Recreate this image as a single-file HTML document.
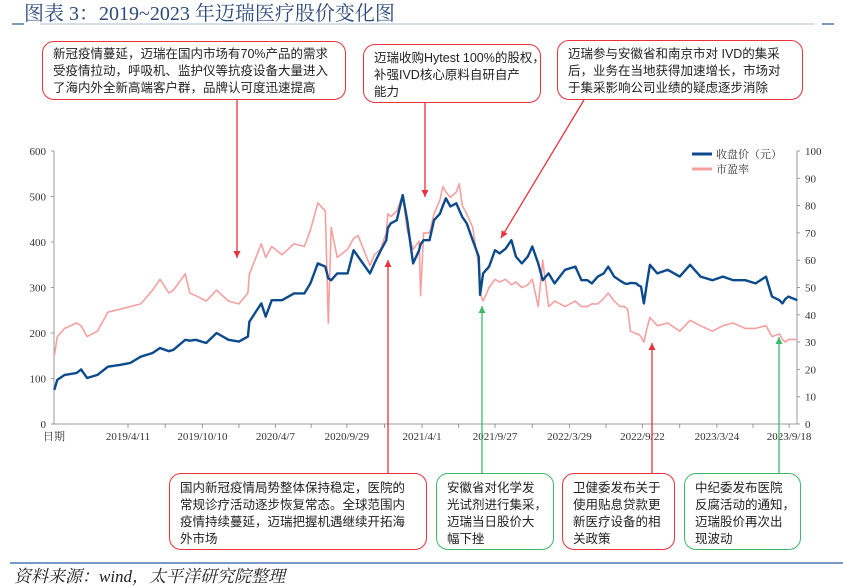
<!DOCTYPE html>
<html><head><meta charset="utf-8">
<style>
body{margin:0;background:#fff;width:843px;height:586px;overflow:hidden;font-family:"Liberation Sans","Noto Sans CJK SC",sans-serif;}
svg{display:block}
.box{position:absolute;border-radius:12px;background:#fff;font-size:12.5px;line-height:17px;color:#222;box-sizing:border-box;padding:6px 8px 0 10px;white-space:nowrap;font-family:"Liberation Sans","Noto Sans CJK SC",sans-serif;}
.red{border:1.5px solid #e8323c}
.green{border:1.5px solid #3cb96a}
</style></head><body>
<div style="position:relative;width:843px;height:586px">
<svg id="chart" width="843" height="586">
<text x="24" y="20" font-family="Liberation Serif,Noto Serif CJK SC,serif" font-size="20" fill="#2c4a7c">图表 3：2019~2023 年迈瑞医疗股价变化图</text>
<line x1="40" y1="24" x2="815" y2="24" stroke="#a9bfd4" stroke-width="1"/>
<line x1="12" y1="24" x2="24" y2="24" stroke="#4a78a8" stroke-width="1.5"/>
<line x1="822" y1="24" x2="834" y2="24" stroke="#4a78a8" stroke-width="1.5"/>
<line x1="10" y1="563" x2="843" y2="563" stroke="#4a78b8" stroke-width="1.5"/>
<text x="14" y="582" font-family="Liberation Serif,Noto Serif CJK SC,serif" font-style="italic" font-size="17" fill="#222">资料来源：wind，太平洋研究院整理</text>
<g id="axes"></g><g id="series"></g><g id="arrows"></g>
<g>
<line x1="692" y1="154" x2="712" y2="154" stroke="#0c4a8c" stroke-width="3"/>
<text x="716" y="158" font-size="11" fill="#333" font-family="Noto Serif CJK SC,serif">收盘价（元）</text>
<line x1="692" y1="169" x2="712" y2="169" stroke="#f4a0a0" stroke-width="3"/>
<text x="716" y="173" font-size="11" fill="#333" font-family="Noto Serif CJK SC,serif">市盈率</text>
</g>
</svg>
<div class="box red" style="left:42px;top:41px;width:304px;height:59px;padding-top:4px">新冠疫情蔓延，迈瑞在国内市场有70%产品的需求<br>受疫情拉动，呼吸机、监护仪等抗疫设备大量进入<br>了海内外全新高端客户群，品牌认可度迅速提高</div>
<div class="box red" style="left:363px;top:44px;width:178px;height:59px;padding-top:5px">迈瑞收购Hytest 100%的股权，<br>补强IVD核心原料自研自产<br>能力</div>
<div class="box red" style="left:557px;top:40px;width:246px;height:60px;padding-top:5px">迈瑞参与安徽省和南京市对 IVD的集采<br>后，业务在当地获得加速增长，市场对<br>于集采影响公司业绩的疑虑逐步消除</div>
<div class="box red" style="left:169px;top:473px;width:258px;height:77px;padding-top:6px">国内新冠疫情局势整体保持稳定，医院的<br>常规诊疗活动逐步恢复常态。全球范围内<br>疫情持续蔓延，迈瑞把握机遇继续开拓海<br>外市场</div>
<div class="box green" style="left:436px;top:473px;width:118px;height:77px;padding-top:6px">安徽省对化学发<br>光试剂进行集采，<br>迈瑞当日股价大<br>幅下挫</div>
<div class="box red" style="left:562px;top:473px;width:113px;height:77px;padding-top:6px">卫健委发布关于<br>使用贴息贷款更<br>新医疗设备的相<br>关政策</div>
<div class="box green" style="left:684px;top:473px;width:117px;height:77px;padding-top:6px">中纪委发布医院<br>反腐活动的通知，<br>迈瑞股价再次出<br>现波动</div>
</div>
<script>
const times=[2018.78,2018.80,2018.85,2018.93,2018.96,2019.00,2019.07,2019.14,2019.22,2019.29,2019.36,2019.44,2019.49,2019.55,2019.58,2019.66,2019.69,2019.73,2019.80,2019.87,2019.95,2020.02,2020.08,2020.09,2020.17,2020.20,2020.24,2020.31,2020.39,2020.46,2020.50,2020.55,2020.60,2020.62,2020.64,2020.68,2020.75,2020.79,2020.82,2020.90,2020.93,2020.97,2021.01,2021.02,2021.04,2021.08,2021.12,2021.15,2021.19,2021.23,2021.24,2021.26,2021.30,2021.33,2021.37,2021.39,2021.41,2021.44,2021.48,2021.50,2021.52,2021.55,2021.59,2021.63,2021.64,2021.66,2021.70,2021.74,2021.77,2021.81,2021.85,2021.88,2021.92,2021.96,2021.99,2022.03,2022.06,2022.10,2022.14,2022.21,2022.28,2022.32,2022.36,2022.39,2022.43,2022.47,2022.50,2022.54,2022.58,2022.61,2022.63,2022.65,2022.69,2022.70,2022.72,2022.74,2022.76,2022.78,2022.83,2022.90,2022.98,2023.05,2023.12,2023.20,2023.27,2023.34,2023.42,2023.49,2023.56,2023.60,2023.65,2023.67,2023.69,2023.71,2023.77];
const price=[75,97,108,112,120,101,108,126,130,134,148,156,167,160,163,185,183,185,178,200,185,181,192,225,265,236,272,272,287,287,309,353,346,320,316,331,331,382,368,331,353,380,404,430,441,448,503,448,353,382,395,404,404,448,462,480,496,478,485,470,455,441,404,368,284,331,346,382,375,385,404,368,353,368,390,353,316,331,309,339,346,316,316,309,324,331,346,324,315,309,308,310,309,305,302,265,309,350,331,339,324,350,324,316,324,316,316,309,324,280,272,265,275,280,272];
const pe=[25,32,35,37,36,32,34,41,42,43,44,49,53,48,49,55,48,47,45,49,45,44,48,55,66,61,65,62,66,65,71,81,78,37,72,61,64,68,69,58,62,64,70,77,76,78,84,71,64,67,47,70,70,77,82,87,85,83,85,88,80,77,72,58,48,45,50,53,52,53,51,52,50,51,53,43,60,43,45,43,45,43,43,44,44,46,48,45,43,43,42,34,33,33,32,30,35,39,36,37,34,38,36,34,36,37,35,35,36,32,33,31,30,31,31];
const leftTicks=[0,100,200,300,400,500,600];
const rightTicks=[0,10,20,30,40,50,60,70,80,90,100];
const dateLabels=["2019/4/11","2019/10/10","2020/4/7","2020/9/29","2021/4/1","2021/9/27","2022/3/29","2022/9/22","2023/3/24","2023/9/18"];
const dateValues=[2019.275,2019.775,2020.265,2020.745,2021.25,2021.74,2022.24,2022.73,2023.23,2023.715];

const NS="http://www.w3.org/2000/svg";
const X0=54,X1=797,Y0=424,Y1=151;
const xs=t=>128+(t-2019.275)*148.9;
const yL=v=>Y0-(v/600)*(Y0-Y1);
const yR=v=>Y0-(v/100)*(Y0-Y1);
function mk(tag,attrs,parent){const e=document.createElementNS(NS,tag);for(const k in attrs)e.setAttribute(k,attrs[k]);parent.appendChild(e);return e;}
const axes=document.getElementById('axes');
const ff="Liberation Serif,serif";
let e=mk('line',{x1:X0,y1:Y1,x2:X0,y2:Y0,stroke:'#999'},axes);


e=mk('line',{x1:X1,y1:Y1,x2:X1,y2:Y0,stroke:'#999'},axes);


e=mk('line',{x1:X0,y1:Y0,x2:X1,y2:Y0,stroke:'#999'},axes);


leftTicks.forEach(v=>{mk('line',{x1:X0-3,x2:X0,y1:yL(v),y2:yL(v),stroke:'#999'},axes);
 const t=mk('text',{x:X0-8,y:yL(v)+4,'text-anchor':'end','font-size':11,'font-family':ff,fill:'#333'},axes);t.textContent=v;
 
 });
rightTicks.forEach(v=>{mk('line',{x1:X1,x2:X1+3,y1:yR(v),y2:yR(v),stroke:'#999'},axes);
 const t=mk('text',{x:X1+8,y:yR(v)+4,'font-size':11,'font-family':ff,fill:'#333'},axes);t.textContent=v;
 
 });
for(let i=0;i<dateValues.length;i++){const x=xs(dateValues[i]);
 mk('line',{x1:x,x2:x,y1:Y0,y2:Y0+4,stroke:'#999'},axes);
 if(i>0){const hx=xs((dateValues[i]+dateValues[i-1])/2);mk('line',{x1:hx,x2:hx,y1:Y0,y2:Y0+4,stroke:'#999'},axes);}
 const t=mk('text',{x:x,y:Y0+16,'text-anchor':'middle','font-size':11,'font-family':ff,fill:'#333'},axes);t.textContent=dateLabels[i];
 
 }
e=mk('text',{x:X0,y:Y0+16,'text-anchor':'middle','font-size':11,'font-family':'Noto Serif CJK SC,serif',fill:'#333'},axes);e.textContent='日期';


const ser=document.getElementById('series');
let d=times.map((t,i)=>(i?'L':'M')+xs(t).toFixed(1)+','+yR(pe[i]).toFixed(1)).join('');
e=mk('path',{d:d,fill:'none',stroke:'#f4a0a0','stroke-width':1.6,'stroke-linejoin':'round'},ser);


d=times.map((t,i)=>(i?'L':'M')+xs(t).toFixed(1)+','+yL(price[i]).toFixed(1)).join('');
e=mk('path',{d:d,fill:'none',stroke:'#0c4a8c','stroke-width':2.4,'stroke-linejoin':'round'},ser);


const ar=document.getElementById('arrows');
function arrow(x1,y1,x2,y2,c,name){mk('line',{x1,y1,x2,y2,stroke:c,'stroke-width':1.3},ar);
 const a=Math.atan2(y2-y1,x2-x1),L=7,W=3.5;
 const p=[[x2,y2],[x2-L*Math.cos(a)+W*Math.sin(a),y2-L*Math.sin(a)-W*Math.cos(a)],[x2-L*Math.cos(a)-W*Math.sin(a),y2-L*Math.sin(a)+W*Math.cos(a)]];
 const g=mk('polygon',{points:p.map(q=>q.join(',')).join(' '),fill:c},ar);
 
 }
arrow(237,100,237,258,'#e8323c','arrow-covid');
arrow(425,103,425,197,'#e8323c','arrow-hytest');
arrow(584,100,501,238,'#e8323c','arrow-ivd');
arrow(388,473,388,260,'#e8323c','arrow-domestic');
arrow(482,473,482,306,'#3cb96a','arrow-anhui');
arrow(652,473,652,343,'#e8323c','arrow-loan');
arrow(779,473,779,337,'#3cb96a','arrow-anticorruption');
</script>
</body></html>
